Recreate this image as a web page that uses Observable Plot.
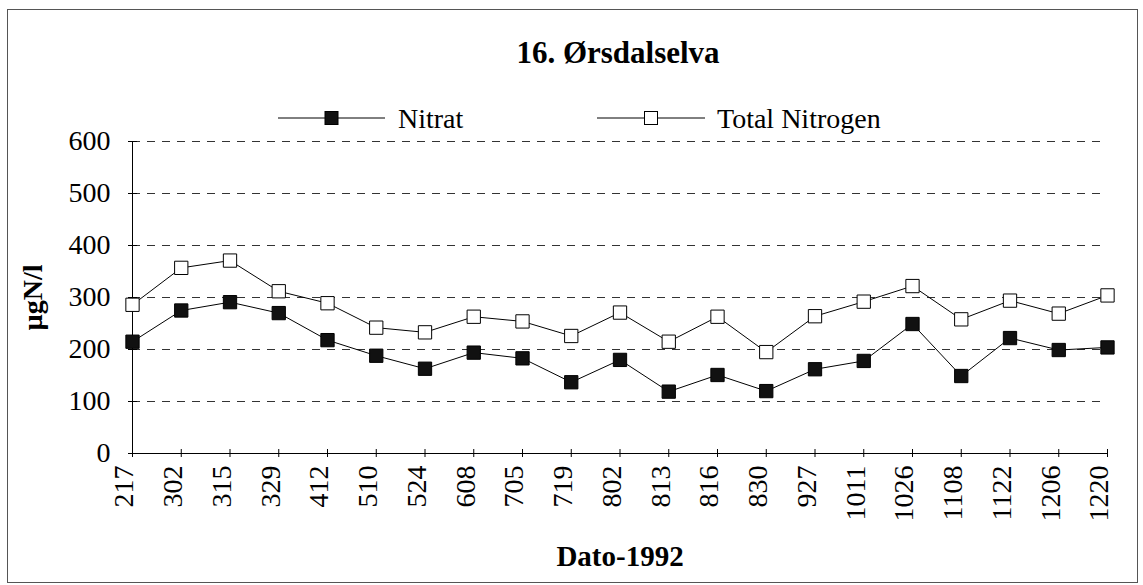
<!DOCTYPE html>
<html><head><meta charset="utf-8">
<script src="https://cdn.jsdelivr.net/npm/d3@7"></script>
<script src="https://cdn.jsdelivr.net/npm/@observablehq/plot@0.6"></script>
<style>
body{margin:0;background:#fff;}
#wrap{position:relative;width:1143px;height:585px;overflow:hidden;}
#frame{position:absolute;left:7px;top:9px;width:1131px;height:574px;border:1px solid #555;box-sizing:border-box;pointer-events:none;}
#wrap svg{position:absolute;left:0;top:0;}
#wrap svg text{font-family:"Liberation Serif","Times New Roman",Times,Tinos,"Nimbus Roman","Nimbus Roman No9 L","Noto Serif","DejaVu Serif",FreeSerif,serif;}
</style></head>
<body><div id="wrap"><div id="frame"></div></div>
<script>
const dates = ["217","302","315","329","412","510","524","608","705","719","802","813","816","830","927","1011","1026","1108","1122","1206","1220"];
const nitrat = [215,275,291,270,218,188,163,194,183,137,180,119,151,120,162,178,249,149,222,199,204];
const totalN = [286,357,371,312,289,242,233,263,254,226,271,215,263,195,264,292,322,258,294,269,304];
const yTicks = [0,100,200,300,400,500,600];
const seriesNames = ["Nitrat","Total Nitrogen"];
const titleText = "16. Ørsdalselva";
const yLabel = "µgN/l";
const xLabel = "Dato-1992";

const nitratRows = dates.map((d,i)=>({date:d, value:nitrat[i]}));
const totalRows = dates.map((d,i)=>({date:d, value:totalN[i]}));

const serif = '"Liberation Serif","Times New Roman",Times,serif';
const W=1143, H=585, ML=132, MR=36, MT=141, MB=132;
const plotW = W-ML-MR, plotH = H-MT-MB;

const chart = Plot.plot({
  width:W, height:H, marginLeft:ML, marginRight:MR, marginTop:MT, marginBottom:MB,
  style:{fontFamily:serif, fontSize:"28px", color:"#000", background:"transparent", overflow:"visible"},
  x:{type:"point", domain:dates, padding:0, round:false, label:null},
  y:{domain:[0,600], label:null},
  marks:[
    Plot.ruleY(yTicks.filter(d=>d>0), {stroke:"#333", strokeWidth:1, strokeDasharray:"8,7"}),
    Plot.ruleX([dates[0]], {stroke:"#000", strokeWidth:1}),
    Plot.ruleY([0], {stroke:"#000", strokeWidth:1}),
    Plot.ruleY(yTicks, {stroke:"#000", insetRight:plotW-9, dx:-4}),
    Plot.ruleX(dates, {stroke:"#000", insetTop:plotH-8, dy:4}),
    Plot.axisY(yTicks, {tickSize:0, tickPadding:22, fontSize:28}),
    Plot.axisX({tickSize:0, tickRotate:-90, tickPadding:12, fontSize:28, dx:-8}),
    Plot.line(nitratRows, {x:"date", y:"value", stroke:"#000", strokeWidth:1}),
    Plot.line(totalRows, {x:"date", y:"value", stroke:"#000", strokeWidth:1}),
    Plot.dot(nitratRows, {x:"date", y:"value", symbol:"square", r:7.5, fill:"#111", stroke:"#000", strokeWidth:1}),
    Plot.dot(totalRows, {x:"date", y:"value", symbol:"square", r:7.5, fill:"#fff", stroke:"#000", strokeWidth:1}),
    Plot.text([titleText], {frameAnchor:"top", dy:53-MT, dx:-2, fontSize:31, fontWeight:"bold", lineAnchor:"middle", fill:"#000"}),
    Plot.text([yLabel], {frameAnchor:"left", dx:33-ML, rotate:-90, textAnchor:"middle", fontSize:28, fontWeight:"bold", lineAnchor:"middle", fill:"#000"}),
    Plot.text([xLabel], {frameAnchor:"bottom", dy:556-(H-MB), fontSize:29, fontWeight:"bold", lineAnchor:"middle", fill:"#000"})
  ]
});

// legend
const svg = d3.select(chart);
const leg = svg.append("g").attr("font-size", 28).attr("text-anchor","start");
const legendItems = [
  {name:seriesNames[0], x1:278, x2:385, fill:"#111", tx:398},
  {name:seriesNames[1], x1:597, x2:705, fill:"#fff", tx:717}
];
const ly = 118;
legendItems.forEach(it=>{
  leg.append("line").attr("x1",it.x1).attr("x2",it.x2).attr("y1",ly).attr("y2",ly).attr("stroke","#000").attr("stroke-width",1);
  const cx=(it.x1+it.x2)/2;
  leg.append("rect").attr("x",cx-6.5).attr("y",ly-6.5).attr("width",13).attr("height",13).attr("fill",it.fill).attr("stroke","#000");
  leg.append("text").attr("x",it.tx).attr("y",ly+9.5).attr("text-anchor","start").attr("fill","#000").text(it.name);
});

document.getElementById("wrap").appendChild(chart);
</script>
</body></html>
